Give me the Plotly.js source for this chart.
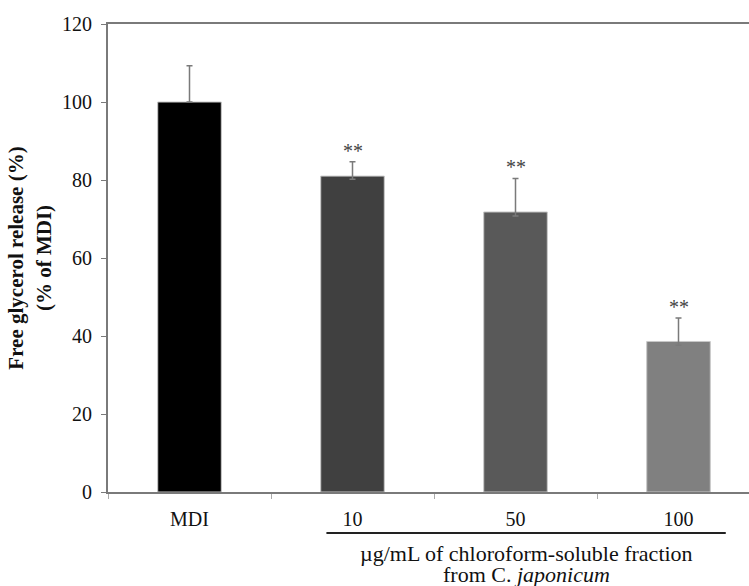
<!DOCTYPE html>
<html>
<head>
<meta charset="utf-8">
<script src="https://cdn.plot.ly/plotly-3.0.1.min.js"></script>
<style>html,body{margin:0;padding:0;overflow:hidden;background:#fff;}</style>
</head>
<body>
<div id="chart" style="width:770px;height:586px;"></div>
<script>
const categories = ["MDI", "10", "50", "100"];
const values = [100, 81, 71.8, 38.6];
const errPlus = [9.3, 3.7, 8.6, 6.0];
const errMinus = [0, 0.8, 1.0, 1.0];
const barColors = ["#000000", "#404040", "#595959", "#808080"];
const significance = ["", "**", "**", "**"];
const xLabelLine1 = "µg/mL of chloroform-soluble fraction";
const xLabelLine2 = "from C. <i>japonicum</i>";
const yLabel = "<b>Free glycerol release (%)<br>(% of MDI)</b>";

const xpos = categories.map((c, i) => i);
const serif = "Liberation Serif, Times New Roman, serif";

const trace = {
  type: "bar",
  x: xpos,
  y: values,
  width: 0.39,
  marker: { color: barColors, line: { color: "#c8c8c8", width: 1 } },
  error_y: {
    type: "data", symmetric: false, array: errPlus, arrayminus: errMinus,
    color: "#7a7a7a", thickness: 1.5, width: 3
  },
  hoverinfo: "none"
};

const annotations = significance.map((s, i) => ({
  x: i, y: values[i] + errPlus[i], xref: "x", yref: "y",
  text: s, showarrow: false, yanchor: "bottom", yshift: -2,
  font: { family: serif, size: 20, color: "#444" }
})).filter(a => a.text);

annotations.push({
  x: 2.07, y: -0.132, xref: "x", yref: "paper", text: xLabelLine1, showarrow: false,
  yanchor: "middle", xanchor: "center",
  font: { family: serif, size: 22, color: "#111" }
});
annotations.push({
  x: 2.07, y: -0.176, xref: "x", yref: "paper", text: xLabelLine2, showarrow: false,
  yanchor: "middle", xanchor: "center",
  font: { family: serif, size: 22, color: "#111" }
});

const layout = {
  width: 770, height: 586,
  margin: { l: 108, r: 10, t: 24, b: 94 },
  paper_bgcolor: "#fff", plot_bgcolor: "#fff",
  showlegend: false,
  font: { family: serif, size: 20, color: "#111" },
  xaxis: {
    range: [-0.5, 3.5], tickvals: xpos, ticktext: categories,
    ticks: "", showgrid: false, zeroline: false,
    showline: true, linecolor: "#7a7a7a", linewidth: 2, mirror: true,
    minor: { ticks: "outside", tick0: -0.5, dtick: 1, ticklen: 5, tickcolor: "#aaa", showgrid: false },
    tickfont: { family: serif, size: 20, color: "#111" }, ticklabelstandoff: 8
  },
  yaxis: {
    range: [0, 120], dtick: 20, ticks: "outside", ticklen: 5, tickcolor: "#7a7a7a",
    showgrid: false, zeroline: false, showline: true, linecolor: "#7a7a7a", linewidth: 2,
    tickfont: { family: serif, size: 20, color: "#111" }, ticklabelstandoff: 5,
    title: { text: yLabel, font: { family: serif, size: 21, color: "#111" }, standoff: 5 }
  },
  shapes: [{
    type: "line", xref: "x", yref: "paper", x0: 0.84, x1: 3.29, y0: -0.0876, y1: -0.0876,
    line: { color: "#222", width: 2 }
  }],
  annotations: annotations
};

Plotly.newPlot("chart", [trace], layout, { displayModeBar: false, staticPlot: true });
</script>
</body>
</html>
